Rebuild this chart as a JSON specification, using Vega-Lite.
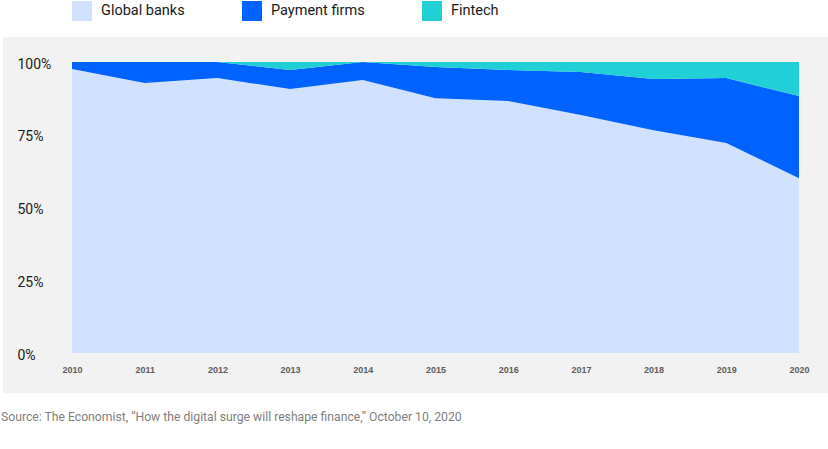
{
  "$schema": "https://vega.github.io/schema/vega-lite/v6.json",
  "width": 825,
  "height": 356,
  "autosize": {"type": "none"},
  "padding": {"left": 3, "top": 37, "right": 0, "bottom": 56},
  "background": "white",
  "view": {"fill": "#f2f2f2", "stroke": null},
  "title": {
    "text": "Source: The Economist, “How the digital surge will reshape finance,” October 10, 2020",
    "orient": "bottom",
    "anchor": "start",
    "frame": "group",
    "offset": 18,
    "dx": -2,
    "baseline": "top",
    "font": "Roboto",
    "fontSize": 12.2,
    "fontWeight": "normal",
    "color": "#808080"
  },
  "data": {
    "values": [
      {"year": 2010, "type": "Global banks", "o": 1, "v": 97.6},
      {"year": 2011, "type": "Global banks", "o": 1, "v": 92.8},
      {"year": 2012, "type": "Global banks", "o": 1, "v": 94.5},
      {"year": 2013, "type": "Global banks", "o": 1, "v": 90.7},
      {"year": 2014, "type": "Global banks", "o": 1, "v": 93.8},
      {"year": 2015, "type": "Global banks", "o": 1, "v": 87.6},
      {"year": 2016, "type": "Global banks", "o": 1, "v": 86.6},
      {"year": 2017, "type": "Global banks", "o": 1, "v": 81.8},
      {"year": 2018, "type": "Global banks", "o": 1, "v": 76.6},
      {"year": 2019, "type": "Global banks", "o": 1, "v": 72.2},
      {"year": 2020, "type": "Global banks", "o": 1, "v": 60.1},
      {"year": 2010, "type": "Payment firms", "o": 2, "v": 2.4},
      {"year": 2011, "type": "Payment firms", "o": 2, "v": 7.2},
      {"year": 2012, "type": "Payment firms", "o": 2, "v": 5.5},
      {"year": 2013, "type": "Payment firms", "o": 2, "v": 6.6},
      {"year": 2014, "type": "Payment firms", "o": 2, "v": 6.2},
      {"year": 2015, "type": "Payment firms", "o": 2, "v": 10.7},
      {"year": 2016, "type": "Payment firms", "o": 2, "v": 10.7},
      {"year": 2017, "type": "Payment firms", "o": 2, "v": 14.8},
      {"year": 2018, "type": "Payment firms", "o": 2, "v": 17.6},
      {"year": 2019, "type": "Payment firms", "o": 2, "v": 22.3},
      {"year": 2020, "type": "Payment firms", "o": 2, "v": 28.2},
      {"year": 2010, "type": "Fintech", "o": 3, "v": 0},
      {"year": 2011, "type": "Fintech", "o": 3, "v": 0},
      {"year": 2012, "type": "Fintech", "o": 3, "v": 0},
      {"year": 2013, "type": "Fintech", "o": 3, "v": 2.7},
      {"year": 2014, "type": "Fintech", "o": 3, "v": 0},
      {"year": 2015, "type": "Fintech", "o": 3, "v": 1.7},
      {"year": 2016, "type": "Fintech", "o": 3, "v": 2.7},
      {"year": 2017, "type": "Fintech", "o": 3, "v": 3.4},
      {"year": 2018, "type": "Fintech", "o": 3, "v": 5.8},
      {"year": 2019, "type": "Fintech", "o": 3, "v": 5.5},
      {"year": 2020, "type": "Fintech", "o": 3, "v": 11.7}
    ]
  },
  "mark": {"type": "area", "opacity": 1},
  "encoding": {
    "x": {
      "field": "year",
      "type": "quantitative",
      "scale": {"domain": [2009.051, 2020.399], "nice": false, "zero": false},
      "axis": {
        "title": null,
        "values": [2010, 2011, 2012, 2013, 2014, 2015, 2016, 2017, 2018, 2019, 2020],
        "format": "d",
        "grid": false,
        "domain": false,
        "ticks": false,
        "tickSize": 0,
        "labelPadding": -28,
        "labelFont": "Liberation Sans",
        "labelFontSize": 9,
        "labelFontWeight": "bold",
        "labelColor": "#5e5e5e",
        "labelBaseline": "top",
        "labelFlush": false
      }
    },
    "y": {
      "field": "v",
      "type": "quantitative",
      "stack": "zero",
      "scale": {"domain": [-13.7, 108.6], "nice": false, "zero": false},
      "axis": {
        "title": null,
        "values": [0, 25, 50, 75, 100],
        "labelExpr": "datum.value + '%'",
        "grid": false,
        "domain": false,
        "ticks": false,
        "tickSize": 0,
        "labelPadding": -14,
        "labelOffset": 2,
        "labelAlign": "left",
        "labelBaseline": "middle",
        "labelFont": "Roboto",
        "labelFontSize": 14,
        "labelColor": "#1a1a1a",
        "labelFlush": false
      }
    },
    "color": {
      "field": "type",
      "type": "nominal",
      "scale": {
        "domain": ["Global banks", "Payment firms", "Fintech"],
        "range": ["#d0e2ff", "#0062ff", "#20d0d6"]
      },
      "legend": {
        "title": null,
        "orient": "none",
        "direction": "horizontal",
        "legendX": 69,
        "legendY": -36,
        "symbolType": "square",
        "symbolSize": 400,
        "symbolStrokeWidth": 0,
        "symbolOpacity": 1,
        "labelFont": "Roboto",
        "labelFontSize": 14.5,
        "labelColor": "#1a1a1a",
        "labelOffset": 9,
        "columnPadding": 57
      }
    },
    "order": {"field": "o", "type": "quantitative"}
  }
}
